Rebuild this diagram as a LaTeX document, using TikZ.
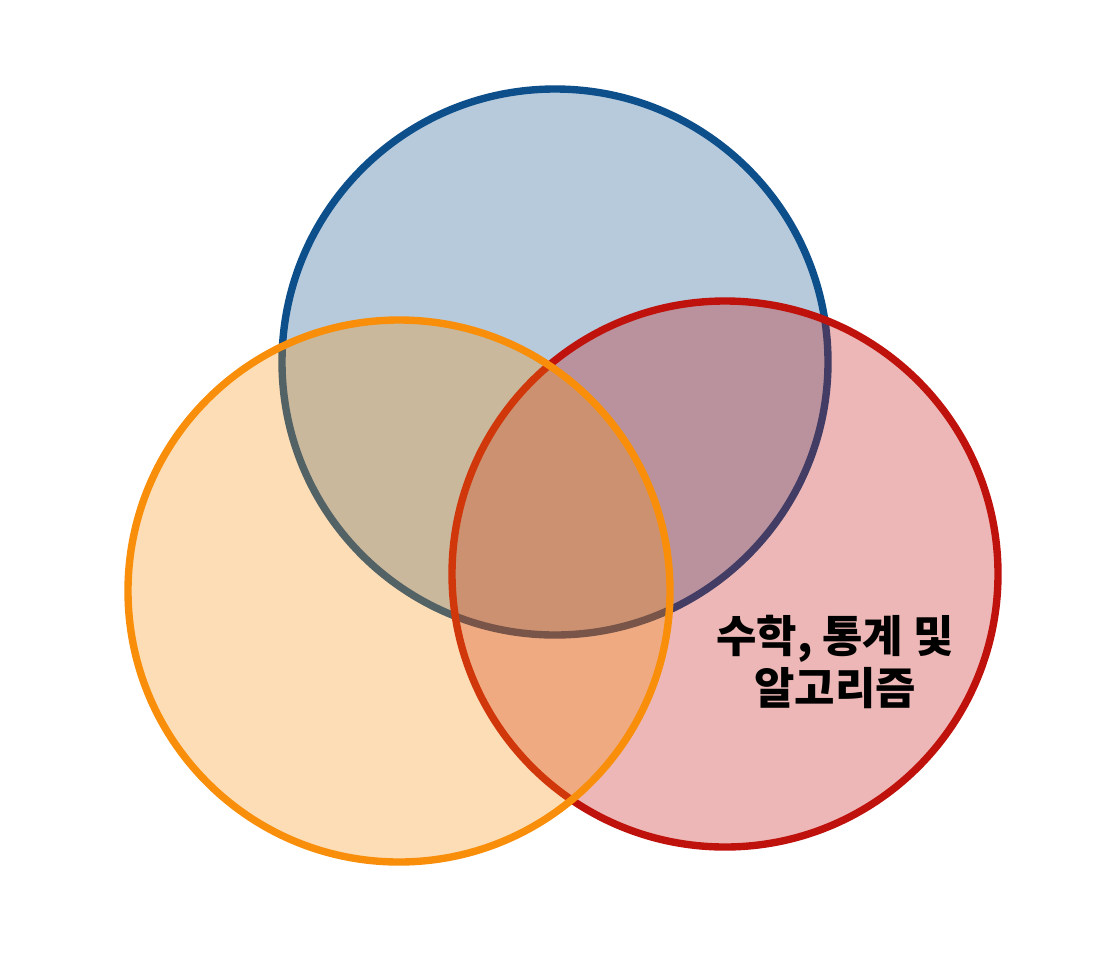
\documentclass[tikz,border=0pt]{standalone}
\usepackage{fontspec}
\newfontfamily\kofont{Noto Sans CJK KR}
\definecolor{setBlue}{RGB}{13,79,139}
\definecolor{setRed}{RGB}{192,18,12}
\definecolor{setOrange}{RGB}{248,142,10}

\def\vennRad{2.73cm}

\begin{document}
\begin{tikzpicture}[
    line cap=round, line width=2.1pt,
    venn/.style={shape=circle, draw=#1, fill=#1, fill opacity=0.3, draw opacity=1,
      inner sep=0, minimum size=2*\vennRad},
    label/.style={align=center, font=\kofont\bfseries\fontsize{12.5}{15}\selectfont, text=black},
  ]
  \useasboundingbox (0,0) rectangle (11.2,9.6);

  % Sets, bottom to top
  \node [venn=setBlue] (blue) at (5.55,5.98) {};
  \node [venn=setRed] (red) at (7.25,3.86) {};
  \node [venn=setOrange, minimum size=5.42cm] (orange) at (3.99,3.69) {};

  % Text
  \node [label] (math) at (8.35,2.98) {수학, 통계 및\\알고리즘};
\end{tikzpicture}
\end{document}
